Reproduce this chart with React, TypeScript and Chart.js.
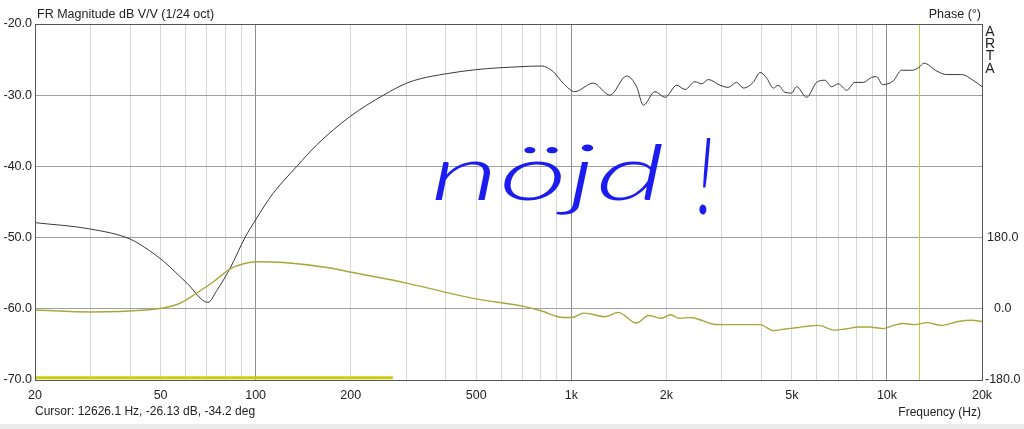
import React, { useEffect, useRef } from "react";
import { Chart, registerables } from "chart.js";

Chart.register(...registerables);

// Magnitude (dB V/V)
const magFreq = [20, 30, 40, 46, 51, 60.6, 70.6, 75.4, 83, 92.5, 100, 113.5, 135, 156, 199, 254, 301, 332, 400, 501, 687, 805, 877, 942, 1026, 1173, 1325, 1497, 1610, 1691, 1841, 1981, 2158, 2293, 2465, 2589, 2717, 2959, 3141, 3339, 3508, 3769, 3962, 4159, 4367, 4524, 4750, 4986, 5171, 5563, 5985, 6355, 6678, 7009, 7455, 7916, 8410, 8937, 9267, 9682, 10466, 11125, 11967, 12626, 13094, 14365, 15455, 17232, 18743, 20000];
const magDb = [-47.9, -48.8, -50.2, -51.8, -53.3, -56.4, -59.1, -57.4, -54.3, -50.0, -47.5, -43.8, -40.0, -37.0, -33.0, -30.0, -28.3, -27.7, -27.0, -26.4, -26.0, -25.9, -26.7, -28.3, -29.5, -28.3, -30.0, -27.3, -28.8, -31.4, -29.5, -30.3, -28.6, -29.2, -28.1, -28.4, -27.8, -28.6, -28.9, -28.2, -29.0, -28.2, -26.8, -27.6, -29.0, -28.6, -29.6, -29.7, -28.8, -30.3, -28.2, -27.9, -28.8, -28.4, -29.3, -28.2, -28.2, -27.5, -27.4, -28.5, -28.0, -26.5, -26.5, -26.1, -25.5, -26.6, -27.1, -27.1, -27.9, -28.8];

// Phase (degrees)
const phaseFreq = [20, 30, 45, 50.9, 57.6, 65.1, 73.7, 83.5, 91.6, 100.7, 122.8, 172.8, 199, 300.7, 404, 500, 707, 801, 941, 1004, 1094, 1155, 1275, 1407, 1610, 1757, 1919, 2064, 2195, 2398, 2584, 2823, 3081, 3406, 3957, 4373, 4775, 5147, 5610, 6047, 6855, 7387, 8155, 8795, 9720, 10481, 11300, 12185, 13424, 14805, 16796, 18527, 20000];
const phaseDeg = [-3, -8, -3, 2, 14, 40, 69, 102, 114, 119, 117, 103, 93, 65, 41, 25, 6, -5, -22, -22, -11, -13, -20, -9, -36, -17, -24, -15, -24, -22, -29, -39, -40, -40, -40, -55, -51, -48, -44, -42, -54, -51, -46, -46, -50, -42, -37, -40, -35, -42, -32, -29, -32];

// Marker bar along the bottom
const barFreq = [20, 272];
const barDb = [-69.7, -69.7];

const cursorFreq = 12626.1;

const xGridFreqs = [20, 30, 40, 50, 60, 70, 80, 90, 100, 200, 300, 400, 500, 600, 700, 800, 900, 1000, 2000, 3000, 4000, 5000, 6000, 7000, 8000, 9000, 10000, 20000];
const xLabelFreqs = [20, 50, 100, 200, 500, 1000, 2000, 5000, 10000, 20000];
const xLabelTexts = ["20", "50", "100", "200", "500", "1k", "2k", "5k", "10k", "20k"];
const decadeFreqs = [100, 1000, 10000];
const phaseTicks = [-180, 0, 180];

const titleText = "FR Magnitude dB V/V (1/24 oct)";
const phaseTitle = "Phase (°)";
const brandText = "ARTA";
const cursorText = "Cursor: 12626.1 Hz, -26.13 dB, -34.2 deg";
const freqTitle = "Frequency (Hz)";
const noteText = "nöjd";
const noteBang = "!";

const FONT = '"Liberation Sans", Arial, sans-serif';

export default function App() {
  const ref = useRef<HTMLCanvasElement | null>(null);

  useEffect(() => {
    const canvas = ref.current;
    if (!canvas) return;

    const decorPlugin = {
      id: "decor",
      beforeDraw(chart: any) {
        const ctx = chart.ctx;
        ctx.save();
        ctx.fillStyle = "#ffffff";
        ctx.fillRect(0, 0, chart.width, chart.height);
        ctx.fillStyle = "#ececec";
        ctx.fillRect(0, 424, chart.width, 5);
        ctx.restore();
      },
      beforeDatasetsDraw(chart: any) {
        const ctx = chart.ctx;
        const a = chart.chartArea;
        const x = Math.round(chart.scales.x.getPixelForValue(cursorFreq)) + 0.5;
        ctx.save();
        ctx.strokeStyle = "#c8c84a";
        ctx.lineWidth = 1;
        ctx.beginPath();
        ctx.moveTo(x, a.top);
        ctx.lineTo(x, a.bottom);
        ctx.stroke();
        ctx.restore();
      },
      afterDatasetsDraw(chart: any) {
        const ctx = chart.ctx;
        const a = chart.chartArea;
        ctx.save();
        ctx.strokeStyle = "#555555";
        ctx.lineWidth = 1;
        ctx.strokeRect(Math.round(a.left) + 0.5, Math.round(a.top) + 0.5, Math.round(a.right - a.left), Math.round(a.bottom - a.top));

        ctx.fillStyle = "#222222";
        ctx.font = "12.5px " + FONT;
        ctx.textBaseline = "middle";
        ctx.textAlign = "left";
        ctx.fillText(titleText, 37, 15);
        ctx.font = "12px " + FONT;
        ctx.fillText(cursorText, 35, 412);
        ctx.textAlign = "right";
        ctx.font = "12.5px " + FONT;
        ctx.fillText(phaseTitle, 981, 15);
        ctx.font = "12px " + FONT;
        ctx.fillText(freqTitle, 981, 413);

        ctx.textAlign = "center";
        ctx.font = "14px " + FONT;
        brandText.split("").forEach((ch, i) => {
          ctx.fillText(ch, 990, 32 + i * 12.3);
        });

        // handwritten note
        ctx.fillStyle = "#1c1cf0";
        ctx.font = 'italic 300 76px Lato, "Open Sans", sans-serif';
        ctx.textAlign = "left";
        ctx.textBaseline = "alphabetic";
        const w = ctx.measureText(noteText).width;
        ctx.save();
        ctx.translate(430, 200);
        ctx.scale(235 / w, 1);
        ctx.fillText(noteText, 0, 0);
        ctx.restore();
        ctx.save();
        ctx.translate(696, 214);
        ctx.scale(1, 1.4);
        ctx.fillText(noteBang, 0, 0);
        ctx.restore();
        ctx.restore();
      },
    };

    const chart = new Chart(canvas, {
      type: "line",
      data: {
        datasets: [
          {
            label: "bar",
            data: barFreq.map((f, i) => ({ x: f, y: barDb[i] })),
            borderColor: "#cccc10",
            borderWidth: 3,
            pointRadius: 0,
            yAxisID: "y",
          },
          {
            label: "phase",
            data: phaseFreq.map((f, i) => ({ x: f, y: phaseDeg[i] })),
            borderColor: "#a8a83c",
            borderWidth: 1.4,
            pointRadius: 0,
            cubicInterpolationMode: "monotone",
            yAxisID: "y2",
          },
          {
            label: "mag",
            data: magFreq.map((f, i) => ({ x: f, y: magDb[i] })),
            borderColor: "#3a3a3a",
            borderWidth: 1,
            pointRadius: 0,
            cubicInterpolationMode: "monotone",
            yAxisID: "y",
          },
        ],
      },
      options: {
        responsive: false,
        animation: false,
        events: [],
        layout: { padding: { left: 0, right: 0, top: 24, bottom: 0 } },
        plugins: { legend: { display: false }, tooltip: { enabled: false }, title: { display: false } },
        scales: {
          x: {
            type: "logarithmic",
            min: 20,
            max: 20000,
            afterBuildTicks: (s: any) => {
              s.ticks = xGridFreqs.map((v) => ({ value: v }));
            },
            afterFit: (s: any) => {
              s.height = 49;
            },
            ticks: {
              autoSkip: false,
              maxRotation: 0,
              padding: 8,
              color: "#222222",
              font: { family: FONT, size: 12.5 },
              callback: (v: any) => {
                const i = xLabelFreqs.indexOf(Number(v));
                return i >= 0 ? xLabelTexts[i] : "";
              },
            },
            grid: {
              drawTicks: false,
              color: (c: any) => (c.tick && decadeFreqs.includes(c.tick.value) ? "#8f8f8f" : "#d6d6d6"),
              lineWidth: 1,
            },
            border: { display: false },
          },
          y: {
            type: "linear",
            position: "left",
            min: -70,
            max: -20,
            afterFit: (s: any) => {
              s.width = 35;
            },
            ticks: {
              stepSize: 10,
              padding: 3,
              color: "#222222",
              font: { family: FONT, size: 12.5 },
              callback: (v: any) => Number(v).toFixed(1),
            },
            grid: { drawTicks: false, color: "#9f9f9f", lineWidth: 1 },
            border: { display: false },
          },
          y2: {
            type: "linear",
            position: "right",
            min: -180,
            max: 720,
            afterBuildTicks: (s: any) => {
              s.ticks = phaseTicks.map((v) => ({ value: v }));
            },
            afterFit: (s: any) => {
              s.width = 42;
            },
            ticks: {
              padding: 3,
              crossAlign: "center",
              color: "#222222",
              font: { family: FONT, size: 12.5 },
              callback: (v: any) => Number(v).toFixed(1),
            },
            grid: { display: false, drawTicks: false },
            border: { display: false },
          },
        },
      },
      plugins: [decorPlugin],
    } as any);

    return () => chart.destroy();
  }, []);

  return (
    <div style={{ position: "absolute", left: 0, top: 0, width: 1024, height: 429 }}>
      <canvas ref={ref} width={1024} height={429} style={{ display: "block", width: 1024, height: 429 }} />
    </div>
  );
}
